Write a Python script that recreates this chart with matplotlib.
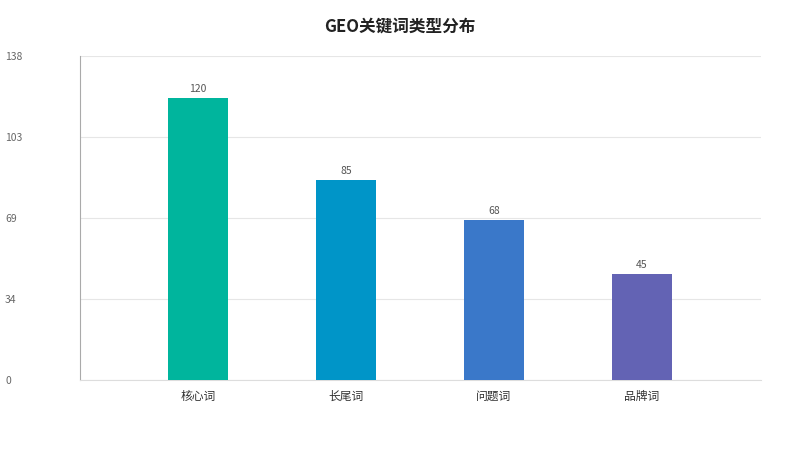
import matplotlib
matplotlib.use('Agg')
import matplotlib.pyplot as plt

plt.rcParams['font.family'] = ['Noto Sans CJK SC', 'DejaVu Sans']

categories = ['核心词', '长尾词', '问题词', '品牌词']
counts = [120, 85, 68, 45]
bar_colors = ['#00b59d', '#0095c8', '#3a78c9', '#6363b4']
y_max = 138
y_ticks = [0, 34.5, 69, 103.5, 138]
y_tick_labels = ['0', '34', '69', '103', '138']

fig = plt.figure(figsize=(8, 4.5), dpi=100)
ax = fig.add_axes([0.1, 0.1556, 0.85125, 0.72])

x = list(range(len(categories)))
bars = ax.bar(x, counts, width=0.41, color=bar_colors, zorder=3)

for b, v in zip(bars, counts):
    ax.annotate(str(v), (b.get_x() + b.get_width() / 2, v), xytext=(0, 3),
                textcoords='offset points', ha='center', va='bottom',
                fontsize=7.5, color='#555555')

ax.set_xlim(-0.797, 3.804)
ax.set_ylim(0, y_max)
ax.set_xticks(x)
ax.set_xticklabels(categories, fontsize=8.5, color='#333333')
ax.set_yticks(y_ticks)
ax.set_yticklabels(y_tick_labels, fontsize=7.5, color='#666666')
for lbl in ax.get_yticklabels():
    lbl.set_horizontalalignment('left')
ax.tick_params(axis='y', length=0, pad=54)
ax.tick_params(axis='x', length=0, pad=7)

ax.grid(axis='y', color='#e6e6e6', linewidth=0.8, zorder=0)
for s in ['top', 'right']:
    ax.spines[s].set_visible(False)
ax.spines['left'].set_color('#aaaaaa')
ax.spines['left'].set_linewidth(0.8)
ax.spines['bottom'].set_color('#dddddd')
ax.spines['bottom'].set_linewidth(0.8)

fig.text(0.5, 1 - 27 / 450, 'GEO关键词类型分布', ha='center', va='center',
         fontsize=12, fontweight='bold', color='#222222')

fig.savefig('out.png', dpi=100)
